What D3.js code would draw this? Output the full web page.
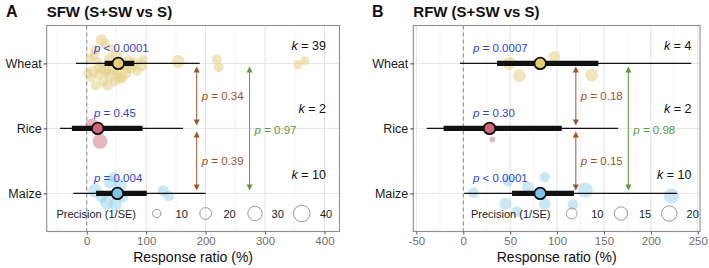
<!DOCTYPE html>
<html><head><meta charset="utf-8">
<script src="https://cdn.jsdelivr.net/npm/d3@7/dist/d3.min.js"></script>
<style>
body{margin:0;background:#fff;}
svg{font-family:"Liberation Sans",Arial,Helvetica,sans-serif;}
</style></head>
<body><svg id="chart" width="709" height="268"></svg>
<script>
// ---------------- DATA ----------------
const crops = ["Wheat", "Rice", "Maize"];
const cropFill = ["#E6CD72", "#CE6579", "#7DC6EA"];
const cropPointFill = ["#E3CF86", "#D27C8C", "#9ED3EE"];

// Panel A: SFW
const sfwMean = [53, 18.5, 51.6];
const sfwCiLo = [30, -25, 15.7];
const sfwCiHi = [80, 94, 101];
const sfwPiLo = [-18, -45, -22.6];
const sfwPiHi = [190, 162, 200];
const sfwP = ["< 0.0001", "= 0.45", "= 0.004"];
const sfwK = [39, 2, 10];
// individual studies: [crop, response ratio (%), vertical jitter (category units), precision 1/SE]
const sfwStudies = [
  ["Wheat",25,-0.36,20],["Wheat",14,-0.2,15],["Wheat",31,-0.3,14],["Wheat",5,-0.08,12],["Wheat",10,0.12,18],
  ["Wheat",20,0.18,14],["Wheat",28,0.28,15],["Wheat",35,0.34,16],["Wheat",40,0.18,22],["Wheat",45,0.08,20],
  ["Wheat",50,-0.12,18],["Wheat",60,0.03,15],["Wheat",65,0.15,20],["Wheat",75,0.08,14],["Wheat",80,0.0,22],
  ["Wheat",92,0.03,20],["Wheat",55,0.23,18],["Wheat",38,-0.08,16],["Wheat",18,-0.03,12],["Wheat",8,0.23,10],
  ["Wheat",2,0.15,12],["Wheat",30,0.08,25],["Wheat",47,0.28,14],["Wheat",70,-0.05,16],["Wheat",85,0.12,12],
  ["Wheat",15,0.34,15],["Wheat",42,-0.23,12],["Wheat",60,0.23,14],["Wheat",22,0.06,20],["Wheat",52,0.15,16],
  ["Wheat",33,0.15,12],["Wheat",12,-0.12,12],["Wheat",68,0.09,10],["Wheat",95,-0.06,12],
  ["Wheat",154,-0.03,25],["Wheat",219,-0.06,14],["Wheat",222,0.06,14],["Wheat",355,0.02,12],["Wheat",367,-0.04,12],
  ["Rice",9,-0.05,25],["Rice",22.5,0.2,32],
  ["Maize",14,-0.04,28],["Maize",39,-0.17,22],["Maize",56,-0.12,25],["Maize",34,0.14,28],["Maize",48,0.17,25],
  ["Maize",129,-0.04,18],["Maize",138,0.04,16],["Maize",45,-0.25,16],["Maize",25,0.05,20],["Maize",60,0.05,20]
];
const sfwTicks = [0, 100, 200, 300, 400];
const sfwMinor = [-50, 50, 150, 250, 350];
const sfwLegend = [10, 20, 30, 40];
// pairwise comparisons: [from, to, p, x position (%)]
const sfwPairs = [["Wheat","Rice","0.34",185],["Rice","Maize","0.39",185],["Wheat","Maize","0.97",274]];

// Panel B: RFW
const rfwMean = [82, 28, 82];
const rfwCiLo = [36, -21, 52];
const rfwCiHi = [144, 105, 118];
const rfwPiLo = [-3.5, -39, 1];
const rfwPiHi = [243, 165, 228];
const rfwP = ["= 0.0007", "= 0.30", "< 0.0001"];
const rfwK = [4, 2, 10];
const rfwStudies = [
  ["Wheat",49,0.0,15],["Wheat",60,0.19,14],["Wheat",97,-0.1,12],["Wheat",137,0.18,14],
  ["Rice",31,0.17,3],["Rice",25,-0.02,6],
  ["Maize",11,-0.01,10],["Maize",48,-0.19,10],["Maize",87,-0.25,9],["Maize",69,-0.09,12],["Maize",45,0.16,12],
  ["Maize",57,0.28,10],["Maize",87,0.16,12],["Maize",117,0.17,10],["Maize",130,-0.05,20],["Maize",222,0.04,19]
];
const rfwTicks = [-50, 0, 50, 100, 150, 200, 250];
const rfwMinor = [-25, 25, 75, 125, 175, 225];
const rfwLegend = [10, 15, 20];
const rfwPairs = [["Wheat","Rice","0.18",120],["Rice","Maize","0.15",120],["Wheat","Maize","0.98",176]];

// ---------------- DRAW ----------------
const svg = d3.select("#chart");
const BROWN = "#A0522D", GREEN = "#5E9A3C", BLUE = "#2D45D6";

function panel(o) {
  const g = svg.append("g");
  const x = d3.scaleLinear().domain(o.domain).range([o.left, o.right]);
  const y = d3.scalePoint().domain(crops).range([63.4, 193.4]);
  const top = 25.5, bottom = 231.5;
  const r = d3.scaleSqrt().domain([0, o.rMaxP]).range([0, o.rMax]);

  // letter & title
  g.append("text").attr("x", o.letterX).attr("y", 17).attr("font-size", 16).attr("font-weight", "bold").attr("fill", "#111").text(o.letter);
  g.append("text").attr("x", o.left).attr("y", 17).attr("font-size", 15).attr("font-weight", "bold").attr("fill", "#111").text(o.title);

  // grid
  g.selectAll(".minor").data(o.minor).join("line")
    .attr("x1", d => x(d)).attr("x2", d => x(d)).attr("y1", top).attr("y2", bottom)
    .attr("stroke", "#f0f0f0").attr("stroke-width", 0.8);
  g.selectAll(".major").data(o.ticks).join("line")
    .attr("x1", d => x(d)).attr("x2", d => x(d)).attr("y1", top).attr("y2", bottom)
    .attr("stroke", "#e3e3e3").attr("stroke-width", 1);
  g.selectAll(".hgrid").data(crops).join("line")
    .attr("x1", o.left).attr("x2", o.right).attr("y1", d => y(d)).attr("y2", d => y(d))
    .attr("stroke", "#e6e6e6").attr("stroke-width", 1);

  // zero line
  g.append("line").attr("x1", x(0)).attr("x2", x(0)).attr("y1", top).attr("y2", bottom)
    .attr("stroke", "#8a8a8a").attr("stroke-width", 1).attr("stroke-dasharray", "4,3");

  // studies
  g.selectAll(".study").data(o.studies).join("circle")
    .attr("cx", d => x(d[1])).attr("cy", d => y(d[0]) + d[2] * 65)
    .attr("r", d => r(d[3]))
    .attr("fill", d => cropPointFill[crops.indexOf(d[0])]).attr("fill-opacity", 0.55);

  // error bars
  crops.forEach((c, i) => {
    g.append("line").attr("x1", x(o.piLo[i])).attr("x2", x(o.piHi[i])).attr("y1", y(c)).attr("y2", y(c))
      .attr("stroke", "#111").attr("stroke-width", 1.3);
    g.append("line").attr("x1", x(o.ciLo[i])).attr("x2", x(o.ciHi[i])).attr("y1", y(c)).attr("y2", y(c))
      .attr("stroke", "#111").attr("stroke-width", 5.3);
    g.append("circle").attr("cx", x(o.mean[i])).attr("cy", y(c)).attr("r", 5.8)
      .attr("fill", cropFill[i]).attr("stroke", "#111").attr("stroke-width", 1.8);
    // p label
    const t = g.append("text").attr("x", o.pX).attr("y", y(c) + o.pDy).attr("font-size", 11.5).attr("fill", BLUE);
    t.append("tspan").attr("font-style", "italic").text("p");
    t.append("tspan").text(" " + o.p[i]);
    // k label
    const kt = g.append("text").attr("x", o.kX).attr("y", y(c) + o.kDy[i]).attr("font-size", 12.5)
      .attr("fill", "#111").attr("text-anchor", "end");
    kt.append("tspan").attr("font-style", "italic").text("k");
    kt.append("tspan").text(" = " + o.k[i]);
  });

  // comparison arrows
  o.pairs.forEach(pr => {
    const col = (pr[0] === "Wheat" && pr[1] === "Maize") ? GREEN : BROWN;
    const xx = x(pr[3]);
    const y1 = y(pr[0]) + 3, y2 = y(pr[1]) - 3;
    g.append("line").attr("x1", xx).attr("x2", xx).attr("y1", y1 + 4).attr("y2", y2 - 4)
      .attr("stroke", col).attr("stroke-width", 1);
    g.append("path").attr("d", `M${xx},${y1} l-3,6 l6,0 z`).attr("fill", col);
    g.append("path").attr("d", `M${xx},${y2} l-3,-6 l6,0 z`).attr("fill", col);
    const ly = (pr[0] === "Wheat" && pr[1] === "Maize") ? y("Rice") + 6 : (y(pr[0]) + y(pr[1])) / 2 + 4;
    const t = g.append("text").attr("x", xx + 5).attr("y", ly).attr("font-size", 11.5).attr("fill", col);
    t.append("tspan").attr("font-style", "italic").text("p");
    t.append("tspan").text(" = " + pr[2]);
  });

  // legend
  const ly = 213.5;
  g.append("text").attr("x", o.legTextX).attr("y", ly + 4).attr("font-size", 11).attr("fill", "#222").text("Precision (1/SE)");
  o.legend.forEach((v, i) => {
    const cx = o.legX[i];
    g.append("circle").attr("cx", cx).attr("cy", ly).attr("r", r(v)).attr("fill", "none").attr("stroke", "#8c8c8c").attr("stroke-width", 0.9);
    g.append("text").attr("x", o.legLabX[i]).attr("y", ly + 4).attr("font-size", 11).attr("fill", "#222")
      .attr("text-anchor", "middle").text(v);
  });

  // panel border
  g.append("rect").attr("x", o.left).attr("y", top).attr("width", o.right - o.left).attr("height", bottom - top)
    .attr("fill", "none").attr("stroke", "#8f8f8f").attr("stroke-width", 1.1);

  // x axis
  const xa = g.append("g").attr("transform", `translate(0,${bottom})`)
    .call(d3.axisBottom(x).tickValues(o.ticks).tickSize(3).tickPadding(2).tickFormat(d => String(d)));
  xa.select(".domain").remove();
  xa.selectAll("line").attr("stroke", "#555");
  xa.selectAll("text").attr("font-size", 11.5).attr("fill", "#6e6e6e").attr("font-family", "Liberation Sans, Arial, sans-serif");

  // y axis
  const ya = g.append("g").attr("transform", `translate(${o.left},0)`)
    .call(d3.axisLeft(y).tickSize(3).tickPadding(2));
  ya.select(".domain").remove();
  ya.selectAll("line").attr("stroke", "#333");
  ya.selectAll("text").attr("font-size", 12.5).attr("fill", "#1a1a1a").attr("font-family", "Liberation Sans, Arial, sans-serif");

  // axis title
  g.append("text").attr("x", (o.left + o.right) / 2).attr("y", 262).attr("text-anchor", "middle")
    .attr("font-size", 14).attr("fill", "#111").text("Response ratio (%)");
}

panel({
  letter: "A", letterX: 6, title: "SFW (S+SW vs S)",
  left: 46.7, right: 339.5, domain: [-67.4, 425.3],
  ticks: sfwTicks, minor: sfwMinor,
  mean: sfwMean, ciLo: sfwCiLo, ciHi: sfwCiHi, piLo: sfwPiLo, piHi: sfwPiHi,
  p: sfwP, k: sfwK, studies: sfwStudies, pairs: sfwPairs,
  rMaxP: 40, rMax: 8.3, legend: sfwLegend,
  legTextX: 56.5, legX: [156.7, 205.7, 255, 301.7], legLabX: [181.7, 229.5, 277.7, 326],
  pX: 94, pDy: -11.5, kX: 326, kDy: [-13.5, -15, -14.5]
});
panel({
  letter: "B", letterX: 372, title: "RFW (S+SW vs S)",
  left: 413.3, right: 700, domain: [-53.3, 252.4],
  ticks: rfwTicks, minor: rfwMinor,
  mean: rfwMean, ciLo: rfwCiLo, ciHi: rfwCiHi, piLo: rfwPiLo, piHi: rfwPiHi,
  p: rfwP, k: rfwK, studies: rfwStudies, pairs: rfwPairs,
  rMaxP: 20, rMax: 7.7, legend: rfwLegend,
  legTextX: 471, legX: [571.7, 621, 669.3], legLabX: [597.3, 645, 692.7],
  pX: 473, pDy: -11.5, kX: 691.5, kDy: [-13.5, -15, -14.5]
});
</script></body></html>
